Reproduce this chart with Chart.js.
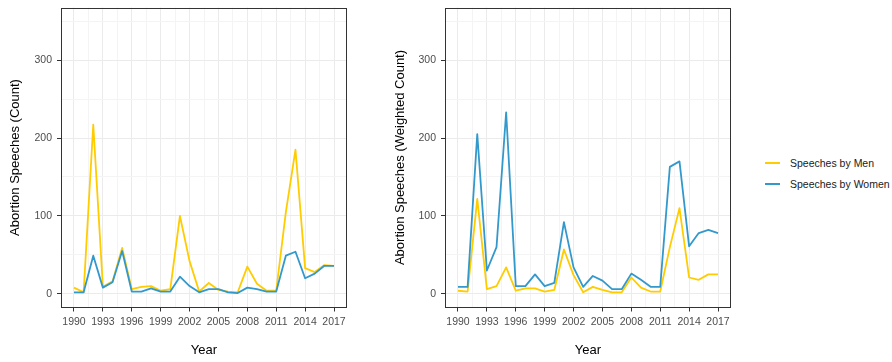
<!DOCTYPE html>
<html>
<head>
<meta charset="utf-8">
<script src="https://cdn.jsdelivr.net/npm/chart.js@4"></script>
<style>
  html, body { margin: 0; padding: 0; background: #ffffff; }
  #wrap { position: relative; width: 892px; height: 362px; overflow: hidden;
          font-family: "Liberation Sans", Arial, sans-serif; }
  .panel { position: absolute; top: 0; }
  #legend { position: absolute; left: 765px; top: 153px; font-size: 10.5px; color: #1a1a1a; }
  .item { display: flex; align-items: center; height: 20.6px; white-space: nowrap; }
  .swatch { width: 15px; height: 2px; margin-right: 10px; }
</style>
</head>
<body>
<div id="wrap">
  <canvas id="countChart" class="panel" style="left:0px" width="380" height="362"></canvas>
  <canvas id="weightedChart" class="panel" style="left:380px" width="380" height="362"></canvas>
  <div id="legend"></div>
</div>
<script>
// Parliamentary speeches on abortion, by speaker gender, 1990-2017
const years = [1990, 1991, 1992, 1993, 1994, 1995, 1996, 1997, 1998, 1999,
               2000, 2001, 2002, 2003, 2004, 2005, 2006, 2007, 2008, 2009,
               2010, 2011, 2012, 2013, 2014, 2015, 2016, 2017];

// Raw counts
const menCount   = [8, 2, 217, 9, 16, 59, 6, 9, 10, 4,
                    6, 100, 42, 3, 14, 5, 3, 2, 35, 13,
                    4, 4, 105, 185, 33, 28, 37, 36];
const womenCount = [2, 2, 49, 8, 15, 55, 3, 3, 7, 3,
                    3, 22, 10, 2, 6, 6, 2, 1, 8, 6,
                    3, 3, 49, 54, 20, 26, 36, 36];

// Counts weighted by share of seats
const menWeighted   = [4, 3, 122, 6, 10, 34, 4, 7, 7, 3,
                       5, 57, 24, 2, 9, 5, 2, 2, 21, 8,
                       3, 3, 60, 110, 21, 18, 25, 25];
const womenWeighted = [9, 9, 205, 30, 60, 233, 10, 10, 25, 10,
                       14, 92, 34, 9, 23, 17, 6, 6, 26, 18,
                       9, 9, 163, 170, 61, 78, 82, 78];

const xTickYears  = [1990, 1993, 1996, 1999, 2002, 2005, 2008, 2011, 2014, 2017];
const yTickValues = [0, 100, 200, 300, 350];
const xTitle = 'Year';
const seriesNames  = ['Speeches by Men', 'Speeches by Women'];
const seriesColors = ['#FFCC00', '#3399CC'];

// axis ranges padded 5% on each side
const X_MIN = 1988.65, X_MAX = 2018.35;
const Y_MIN = -17.5, Y_MAX = 367.5;

const FONT = '"Liberation Sans", Arial, sans-serif';
const GRID_MAJOR = '#EBEBEB';
const GRID_MINOR = '#F4F4F4';
const INK = '#333333';

// major ticks plus the midpoints between them (minor grid)
function withMinor(major, lo, hi) {
  const step = major[1] - major[0];
  const out = [];
  for (let v = major[0] - step / 2; v <= hi + 1e-9; v += step / 2) {
    if (v >= lo - 1e-9) out.push(v);
  }
  return out;
}
const yMajor = yTickValues.filter(v => v % 100 === 0);
const xAll = withMinor(xTickYears, X_MIN, X_MAX);
const yAll = withMinor(yMajor, Y_MIN, Y_MAX);
const isMajorX = v => xTickYears.includes(Math.round(v * 10) / 10);
const isMajorY = v => yMajor.includes(Math.round(v * 10) / 10);

const panelBorder = {
  id: 'panelBorder',
  afterDatasetsDraw(chart) {
    const { ctx, chartArea: a } = chart;
    ctx.save();
    ctx.strokeStyle = INK;
    ctx.lineWidth = 1;
    ctx.strokeRect(Math.round(a.left) + 0.5, Math.round(a.top) + 0.5,
                   Math.round(a.width) - 1, Math.round(a.height) - 1);
    ctx.restore();
  }
};

function toPoints(vals) {
  return years.map((yr, i) => ({ x: yr, y: vals[i] }));
}

function makeChart(id, yTitle, menVals, womenVals, opts) {
  return new Chart(document.getElementById(id), {
    type: 'line',
    data: {
      datasets: [
        { label: seriesNames[0], data: toPoints(menVals), borderColor: seriesColors[0],
          borderWidth: 1.8, pointRadius: 0, tension: 0, order: 2, borderJoinStyle: 'round' },
        { label: seriesNames[1], data: toPoints(womenVals), borderColor: seriesColors[1],
          borderWidth: 1.8, pointRadius: 0, tension: 0, order: 1, borderJoinStyle: 'round' }
      ]
    },
    options: {
      responsive: false,
      animation: false,
      devicePixelRatio: 1,
      layout: { padding: { left: 0, right: opts.rightPad, top: 7.5, bottom: 0 } },
      plugins: { legend: { display: false }, tooltip: { enabled: false } },
      scales: {
        x: {
          type: 'linear', min: X_MIN, max: X_MAX,
          afterBuildTicks: s => { s.ticks = xAll.map(v => ({ value: v })); },
          afterFit: s => { s.height = 54.5; s.paddingLeft = 0; s.paddingRight = 0; },
          border: { display: false },
          grid: {
            color: c => isMajorX(c.tick.value) ? GRID_MAJOR : GRID_MINOR,
            lineWidth: 1,
            drawTicks: true, tickLength: 4, tickWidth: 1,
            tickColor: c => isMajorX(c.tick.value) ? INK : 'rgba(0,0,0,0)'
          },
          ticks: {
            autoSkip: false, maxRotation: 0, padding: 4.5,
            color: '#4D4D4D', font: { family: FONT, size: 10.5 },
            callback: v => isMajorX(v) ? String(Math.round(v)) : ''
          },
          title: { display: true, text: xTitle, color: '#000000',
                   font: { family: FONT, size: 13 }, padding: { top: 0, bottom: 4 } }
        },
        y: {
          type: 'linear', min: Y_MIN, max: Y_MAX,
          afterBuildTicks: s => { s.ticks = yAll.map(v => ({ value: v })); },
          afterFit: s => { s.width = opts.yWidth; s.paddingTop = 0; s.paddingBottom = 0; },
          border: { display: false },
          grid: {
            color: c => isMajorY(c.tick.value) ? GRID_MAJOR : GRID_MINOR,
            lineWidth: 1,
            drawTicks: true, tickLength: 4, tickWidth: 1,
            tickColor: c => isMajorY(c.tick.value) ? INK : 'rgba(0,0,0,0)'
          },
          ticks: {
            autoSkip: false, padding: 5,
            color: '#4D4D4D', font: { family: FONT, size: 10.5 },
            callback: v => isMajorY(v) ? String(Math.round(v)) : ''
          },
          title: { display: true, text: yTitle, color: '#000000',
                   font: { family: FONT, size: 13 }, padding: { top: opts.yTitlePad, bottom: 0 } }
        }
      }
    },
    plugins: [panelBorder]
  });
}

makeChart('countChart', 'Abortion Speeches (Count)', menCount, womenCount,
          { rightPad: 33, yWidth: 61, yTitlePad: 8 });
makeChart('weightedChart', 'Abortion Speeches (Weighted Count)', menWeighted, womenWeighted,
          { rightPad: 29, yWidth: 65, yTitlePad: 13 });

// legend
const legend = document.getElementById('legend');
seriesNames.forEach((name, i) => {
  const row = document.createElement('div');
  row.className = 'item';
  const sw = document.createElement('span');
  sw.className = 'swatch';
  sw.style.background = seriesColors[i];
  const label = document.createElement('span');
  label.textContent = name;
  row.appendChild(sw);
  row.appendChild(label);
  legend.appendChild(row);
});
</script>
</body>
</html>
